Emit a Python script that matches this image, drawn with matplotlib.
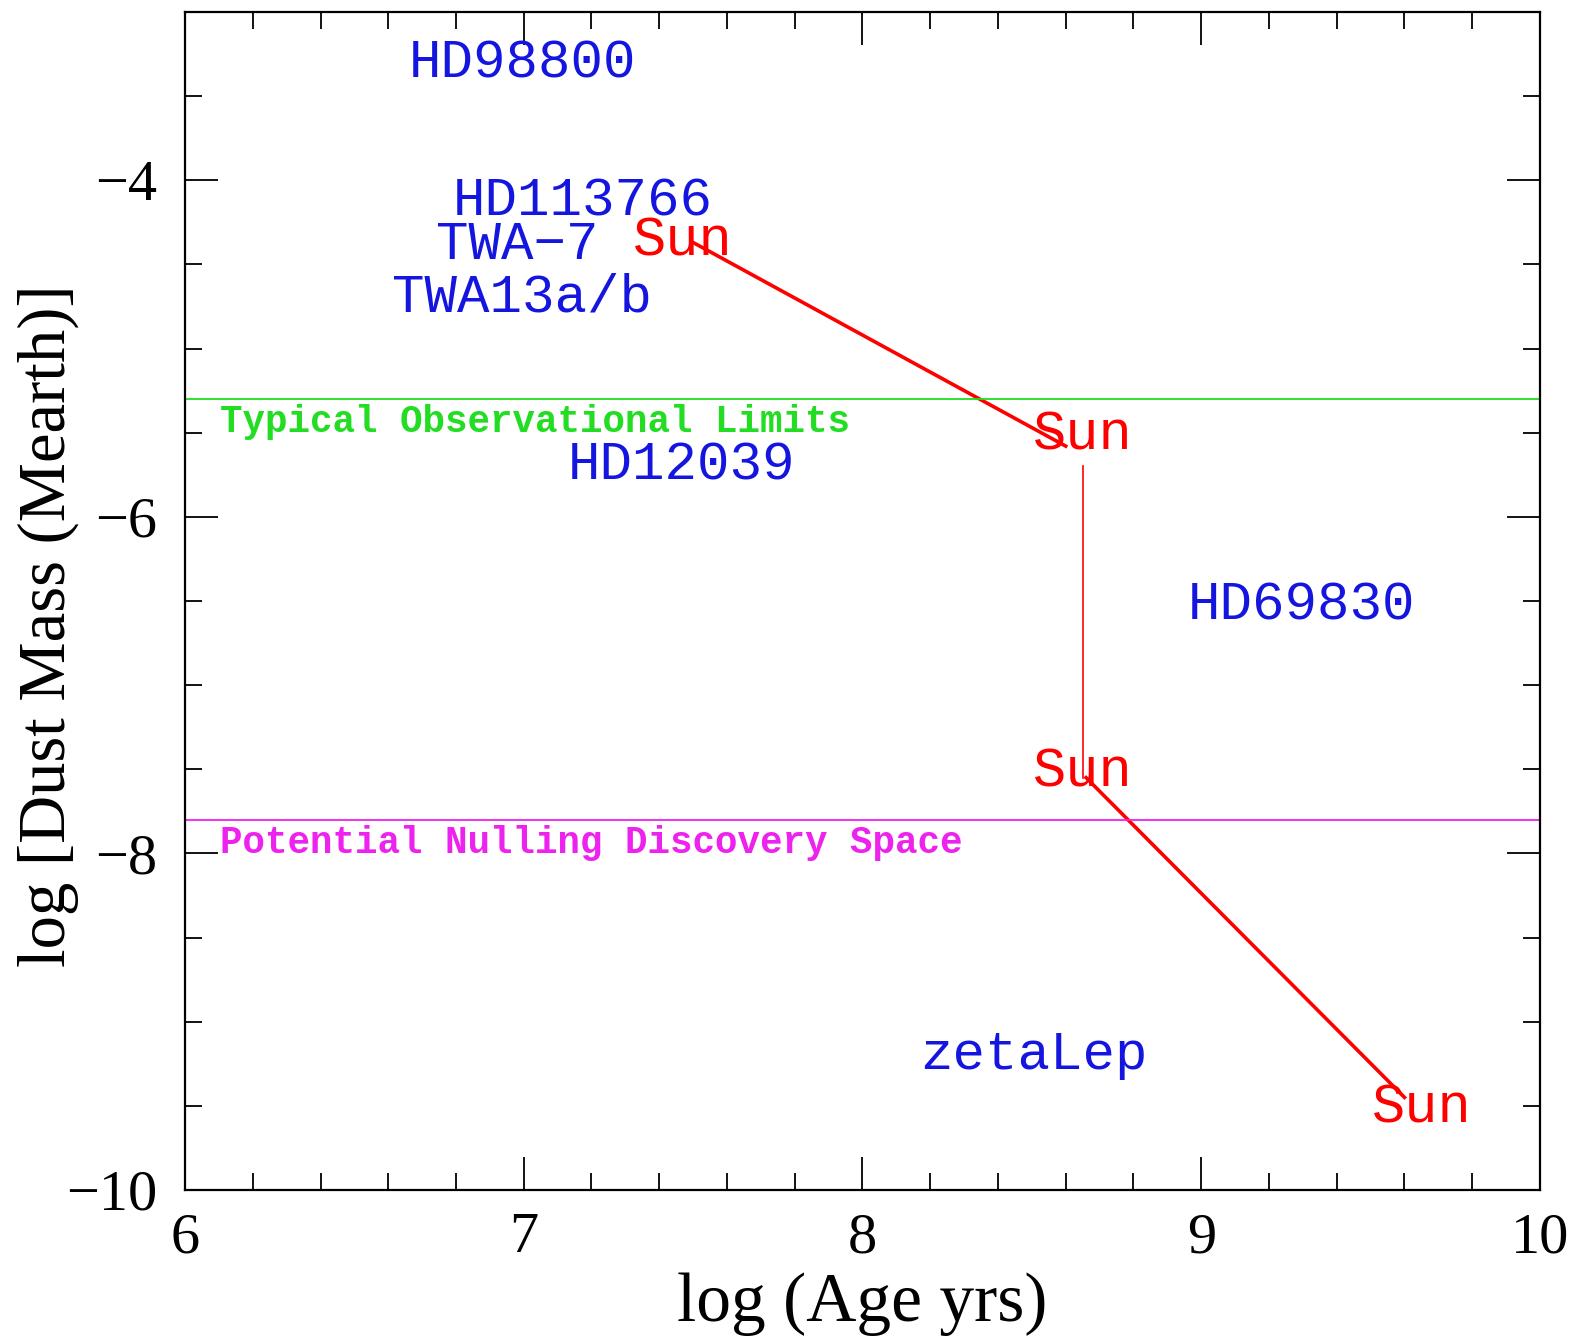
import matplotlib.pyplot as plt
from matplotlib.ticker import MultipleLocator

# debris disk stars: log age, log dust mass
star_names = ['HD98800', 'HD113766', 'TWA\u22127', 'TWA13a/b', 'HD12039', 'HD69830', 'zetaLep']
star_age = [6.66, 6.79, 6.74, 6.61, 7.13, 8.96, 8.17]
star_mass = [-3.39, -4.21, -4.47, -4.78, -5.78, -6.61, -9.28]

# evolution track of the Sun (three pieces)
sun_seg1_age = [7.50, 8.60]
sun_seg1_mass = [-4.37, -5.58]
sun_seg2_age = [8.65, 8.65]
sun_seg2_mass = [-5.70, -7.55]
sun_seg3_age = [8.66, 9.60]
sun_seg3_mass = [-7.55, -9.45]

# "Sun" labels
sun_lab_age = [7.47, 8.65, 8.65, 9.65]
sun_lab_mass = [-4.45, -5.60, -7.60, -9.60]

# horizontal limits
obs_limit = -5.3
null_limit = -7.8

fig = plt.figure(figsize=(15.84, 13.42), dpi=100)
ax = fig.add_axes([0.1168, 0.1133, 0.8554, 0.8778])

ax.plot(sun_seg1_age, sun_seg1_mass, color='red', lw=2.6)
ax.plot(sun_seg2_age, sun_seg2_mass, color='red', lw=1.2)
ax.plot(sun_seg3_age, sun_seg3_mass, color='red', lw=2.6)

ax.axhline(obs_limit, color='#22dd22', lw=1.3)
ax.axhline(null_limit, color='#ee22ee', lw=1.3)

mono = 'Liberation Mono'
for name, x, y in zip(star_names, star_age, star_mass):
    ax.text(x, y, name, color='#1515e0', fontsize=39, family=mono,
            ha='left', va='baseline')
for x, y in zip(sun_lab_age, sun_lab_mass):
    ax.text(x, y, 'Sun', color='red', fontsize=40, family=mono,
            ha='center', va='baseline')

ax.text(6.104, -5.495, 'Typical Observational Limits', color='#22dd22',
        fontsize=27, family=mono, fontweight='bold', ha='left', va='baseline')
ax.text(6.104, -8.0, 'Potential Nulling Discovery Space', color='#ee22ee',
        fontsize=27, family=mono, fontweight='bold', ha='left', va='baseline')

ax.set_xlim(6, 10)
ax.set_ylim(-10, -3)
ax.xaxis.set_major_locator(MultipleLocator(1))
ax.xaxis.set_minor_locator(MultipleLocator(0.2))
ax.yaxis.set_major_locator(MultipleLocator(2))
ax.yaxis.set_minor_locator(MultipleLocator(0.5))
ax.tick_params(which='both', direction='in', top=True, right=True, width=1.3)
ax.tick_params(which='major', length=24)
ax.tick_params(which='minor', length=12)
ax.tick_params(axis='x', which='major', pad=16)
ax.tick_params(axis='y', which='major', pad=20)
for lab in ax.get_xticklabels() + ax.get_yticklabels():
    lab.set_family('Liberation Serif')
    lab.set_fontsize(42)
for sp in ax.spines.values():
    sp.set_linewidth(1.6)

ax.set_xlabel('log (Age yrs)', family='Liberation Serif', fontsize=50)
ax.set_ylabel('log [Dust Mass (Mearth)]', family='Liberation Serif', fontsize=48)
ax.xaxis.set_label_coords(0.5, -0.07)
ax.yaxis.set_label_coords(-0.078, 0.479)

fig.savefig('out.png', dpi=100)
